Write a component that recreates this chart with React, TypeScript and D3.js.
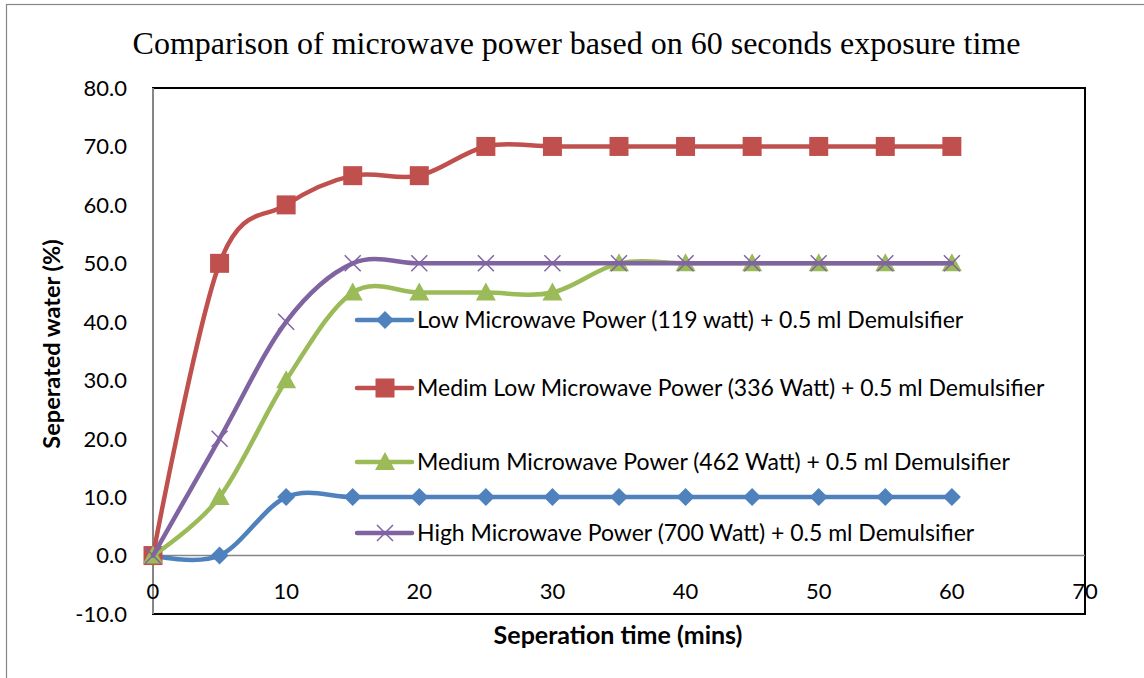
import React, { useEffect } from "react";
import * as d3 from "d3";

const times = [0, 5, 10, 15, 20, 25, 30, 35, 40, 45, 50, 55, 60];
const lowPower = [0, 0, 10, 10, 10, 10, 10, 10, 10, 10, 10, 10, 10];
const medimLowPower = [0, 50, 60, 65, 65, 70, 70, 70, 70, 70, 70, 70, 70];
const mediumPower = [0, 10, 30, 45, 45, 45, 45, 50, 50, 50, 50, 50, 50];
const highPower = [0, 20, 40, 50, 50, 50, 50, 50, 50, 50, 50, 50, 50];
const seriesNames = [
  "Low Microwave Power (119 watt) + 0.5 ml Demulsifier",
  "Medim Low Microwave Power (336 Watt) + 0.5 ml Demulsifier",
  "Medium Microwave Power (462 Watt) + 0.5 ml Demulsifier",
  "High Microwave Power (700 Watt) + 0.5 ml Demulsifier",
];
const seriesColors = ["#4F81BD", "#C0504D", "#9BBB59", "#8064A2"];
const seriesMarkers = ["diamond", "square", "triangle", "x"];
const xTicks = [0, 10, 20, 30, 40, 50, 60, 70];
const yTicks = [-10, 0, 10, 20, 30, 40, 50, 60, 70, 80];
const title = "Comparison of microwave power based on 60 seconds exposure time";
const xTitle = "Seperation time (mins)";
const yTitle = "Seperated water (%)";

const FONT = "Lato, 'Open Sans', sans-serif";

function Marker({ type, x, y, color }: { type: string; x: number; y: number; color: string }) {
  if (type === "diamond") {
    const r = 9;
    return <path d={`M${x},${y - r}L${x + r},${y}L${x},${y + r}L${x - r},${y}Z`} fill={color} />;
  }
  if (type === "square") {
    const s = 9.5;
    return <rect x={x - s} y={y - s} width={2 * s} height={2 * s} fill={color} />;
  }
  if (type === "triangle") {
    const r = 10;
    return <path d={`M${x},${y - r}L${x + r},${y + r * 0.8}L${x - r},${y + r * 0.8}Z`} fill={color} />;
  }
  const r = 8;
  return (
    <path
      d={`M${x - r},${y - r}L${x + r},${y + r}M${x - r},${y + r}L${x + r},${y - r}`}
      stroke={color}
      strokeWidth={1.5}
      fill="none"
    />
  );
}

export default function App() {
  useEffect(() => {
    document.body.style.margin = "0";
  }, []);

  const W = 1144;
  const H = 678;
  const left = 153;
  const right = 1085;
  const top = 88;
  const bottom = 614;

  const x = d3.scaleLinear().domain([0, 70]).range([left, right]);
  const y = d3.scaleLinear().domain([-10, 80]).range([bottom, top]);

  const allSeries = [lowPower, medimLowPower, mediumPower, highPower];
  const line = d3
    .line<[number, number]>()
    .x((d) => x(d[0]))
    .y((d) => y(d[1]))
    .curve(d3.curveCardinal.tension(0));

  const legendYs = [320, 388, 462, 533];

  return (
    <svg width={W} height={H} style={{ display: "block" }}>
      <rect x={0} y={0} width={W} height={H} fill="#fff" />
      <rect x={6.5} y={4.5} width={1200} height={800} fill="#fff" stroke="#868686" strokeWidth={1.2} />
      <text
        x={576.5}
        y={54}
        textAnchor="middle"
        fontFamily="'Liberation Serif', 'Times New Roman', serif"
        fontSize={32}
        fill="#000"
      >
        {title}
      </text>

      {/* plot area border */}
      <rect x={left} y={top} width={right - left} height={bottom - top} fill="#fff" stroke="#000" strokeWidth={2} />
      {/* y axis line */}
      <line x1={left} x2={left} y1={top} y2={bottom} stroke="#868686" strokeWidth={2} />
      {/* x axis at zero */}
      <line x1={left} x2={right} y1={y(0)} y2={y(0)} stroke="#868686" strokeWidth={1.5} />

      {yTicks.map((t) => (
        <text
          key={"y" + t}
          x={127}
          y={y(t)}
          dy="0.36em"
          textAnchor="end"
          fontFamily={FONT}
          fontSize={22}
          fill="#000"
        >
          {t.toFixed(1)}
        </text>
      ))}
      {xTicks.map((t) => (
        <text
          key={"x" + t}
          x={x(t)}
          y={y(0) + 36}
          dy="0.36em"
          textAnchor="middle"
          fontFamily={FONT}
          fontSize={22}
          fill="#000"
        >
          {t}
        </text>
      ))}

      <text
        x={618}
        y={644}
        textAnchor="middle"
        fontFamily={FONT}
        fontWeight="bold"
        fontSize={25}
        fill="#000"
      >
        {xTitle}
      </text>
      <text
        transform={`translate(52,${344}) rotate(-90)`}
        textAnchor="middle"
        dy="0.35em"
        fontFamily={FONT}
        fontWeight="bold"
        fontSize={23.5}
        fill="#000"
      >
        {yTitle}
      </text>

      {allSeries.map((vals, i) => (
        <g key={"s" + i}>
          <path
            d={line(times.map((t, j) => [t, vals[j]] as [number, number])) || ""}
            fill="none"
            stroke={seriesColors[i]}
            strokeWidth={4.5}
            strokeLinejoin="round"
            strokeLinecap="round"
          />
          {times.map((t, j) => (
            <Marker key={j} type={seriesMarkers[i]} x={x(t)} y={y(vals[j])} color={seriesColors[i]} />
          ))}
        </g>
      ))}

      {seriesNames.map((name, i) => (
        <g key={"l" + i}>
          <line
            x1={357}
            x2={412}
            y1={legendYs[i]}
            y2={legendYs[i]}
            stroke={seriesColors[i]}
            strokeWidth={4.5}
            strokeLinecap="round"
          />
          <Marker type={seriesMarkers[i]} x={385} y={legendYs[i]} color={seriesColors[i]} />
          <text x={417} y={legendYs[i]} dy="0.36em" fontFamily={FONT} fontSize={23} fill="#000">
            {name}
          </text>
        </g>
      ))}
    </svg>
  );
}
